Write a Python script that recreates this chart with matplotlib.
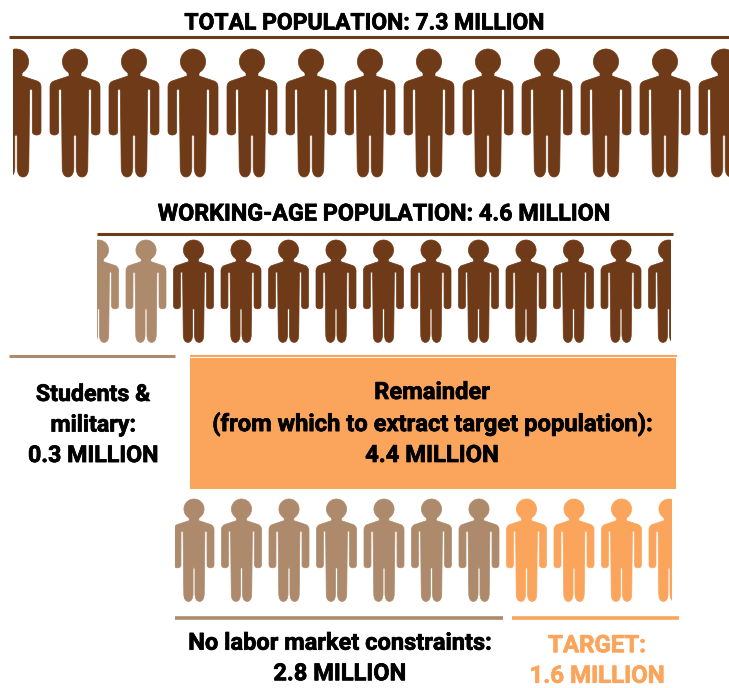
import matplotlib
matplotlib.use("Agg")
from matplotlib import pyplot as plt
from matplotlib import patheffects
from matplotlib.patches import PathPatch, Rectangle
from matplotlib.path import Path
from matplotlib.transforms import Affine2D

W, H = 729, 688
DARK = "#6f3a17"
LIGHT = "#ae8a6d"
ORANGE = "#fba55c"

plt.rcParams["font.family"] = ["Roboto", "DejaVu Sans"]
plt.rcParams["font.weight"] = "bold"

# population figures, millions
total_pop = 7.3
working_pop = 4.6
students_pop = 0.3
remainder_pop = 4.4
unconstrained_pop = 2.8
target_pop = 1.6

# how many pictograms each row shows
total_row = [(DARK, 13)]
working_row = [(LIGHT, 2), (DARK, 11)]
remainder_row = [(LIGHT, 7), (ORANGE, 4)]


def person_path():
    # outline of one figure, width 50 and height 128, y pointing down
    right = [
        (Path.MOVETO, 0, 18),
        (Path.LINETO, 6, 18),
        (Path.LINETO, 6, 27),
        (Path.LINETO, 21, 32),
        (Path.CURVE3, 25, 33.5),
        (Path.CURVE3, 25, 38),
        (Path.LINETO, 25, 82),
        (Path.CURVE3, 25, 86),
        (Path.CURVE3, 20.7, 86),
        (Path.CURVE3, 16.3, 86),
        (Path.CURVE3, 16.3, 82),
        (Path.LINETO, 16.3, 42),
        (Path.CURVE3, 16.3, 40),
        (Path.CURVE3, 15, 40),
        (Path.CURVE3, 13.6, 40),
        (Path.CURVE3, 13.6, 42),
        (Path.LINETO, 12.8, 118),
        (Path.CURVE3, 12.8, 128),
        (Path.CURVE3, 7, 128),
        (Path.CURVE3, 1.2, 128),
        (Path.CURVE3, 1.2, 118),
        (Path.LINETO, 1.2, 87),
        (Path.CURVE3, 0, 85.5),
        (Path.CURVE3, 0, 85.5),
    ]
    codes = [c for c, _, _ in right]
    verts = [(x, y) for _, x, y in right]
    # mirror the right half, walking back to the neck
    left_v = [(-x, y) for x, y in reversed(verts[:-1])]
    left_c = codes[1:][::-1]
    body = Path(verts + left_v + [(0, 18)], codes + left_c + [Path.CLOSEPOLY])
    head = Affine2D().scale(12.6).translate(0, 12.6).transform_path(Path.unit_circle())
    return Path.make_compound_path(head, body)


PERSON = person_path()

fig = plt.figure(figsize=(W / 100, H / 100), dpi=100)
ax = fig.add_axes([0, 0, 1, 1])
ax.set_xlim(0, W)
ax.set_ylim(H, 0)
ax.axis("off")


def draw_row(groups, x0, step, top, scale, xmin, xmax):
    clip = Rectangle((xmin, top - 2), xmax - xmin, 128 * scale + 4, transform=ax.transData)
    n = 0
    for colour, count in groups:
        for _ in range(count):
            t = Affine2D().scale(scale).translate(x0 + n * step, top) + ax.transData
            p = PathPatch(PERSON, facecolor=colour, edgecolor=colour, lw=0.5, transform=t)
            ax.add_patch(p)
            p.set_clip_path(clip)
            n += 1


def rule(x1, x2, y, colour, lw=2.2):
    ax.plot([x1, x2], [y, y], color=colour, lw=lw, solid_capstyle="butt")


def label(x, y, s, size, colour="black", spacing=1.42):
    t = ax.text(x, y, s, ha="center", va="center", fontsize=size, color=colour, linespacing=spacing)
    t.set_path_effects([patheffects.withStroke(linewidth=0.5, foreground=colour)])


draw_row(total_row, 16, 59, 49, 1.0, 13, 729)
draw_row(working_row, 98.5, 47.5, 240, 0.8, 97, 671)
draw_row(remainder_row, 194, 47.5, 499, 0.8, 175, 672)

rule(9, 729, 37, DARK, 2.2)
rule(97, 673, 233.5, DARK, 2.2)
rule(9, 175, 356, LIGHT)
rule(190, 677, 355.5, ORANGE, 1.5)
rule(175, 503, 617.5, LIGHT, 2.6)
rule(512, 679, 617.5, ORANGE, 2.6)

ax.add_patch(Rectangle((190, 358), 486, 131, facecolor=ORANGE, edgecolor="none"))

label(364.5, 23, f"TOTAL POPULATION: {total_pop} MILLION", 16.5)
label(384.5, 214, f"WORKING-AGE POPULATION: {working_pop} MILLION", 16.8)
label(93, 425, f"Students &\nmilitary:\n{students_pop} MILLION", 16.7)
label(432, 424, f"Remainder\n(from which to extract target population):\n{remainder_pop} MILLION", 17.1)
label(340, 658.5, f"No labor market constraints:\n{unconstrained_pop} MILLION", 17.0)
label(597, 661, f"TARGET:\n{target_pop} MILLION", 17.3, ORANGE)

fig.savefig("out.png", dpi=100)
